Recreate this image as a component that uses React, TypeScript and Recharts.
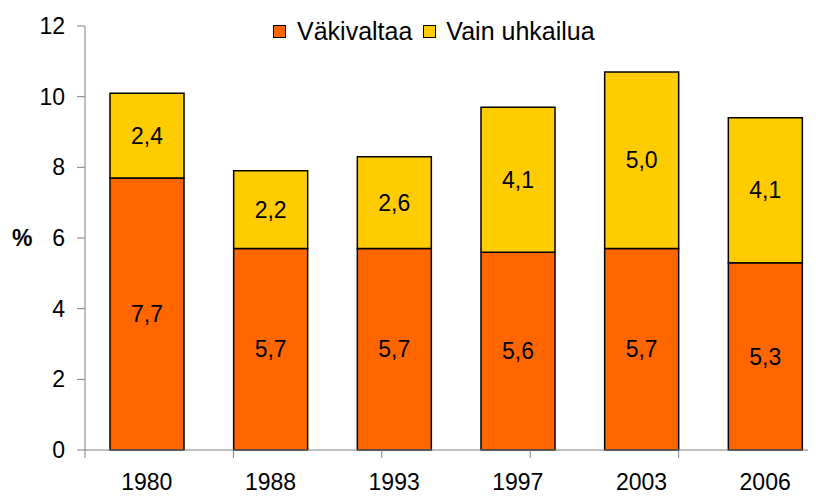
import React from 'react';
import { BarChart, Bar, XAxis, YAxis, LabelList, Legend } from 'recharts';

const years = ['1980', '1988', '1993', '1997', '2003', '2006'];
const violence = [7.7, 5.7, 5.7, 5.6, 5.7, 5.3];
const threats = [2.4, 2.2, 2.6, 4.1, 5.0, 4.1];
const yTicks = [0, 2, 4, 6, 8, 10, 12];
const boundaryTicks = [0, 1, 2, 3, 4, 5, 6];

const data = years.map((y, i) => ({ year: y, v: violence[i], t: threats[i] }));

const FONT = '"Liberation Sans", Arial, sans-serif';
const FS = 23;
const fmt = (v: any) => String(Number(v).toFixed(1)).replace('.', ',');

const LegendContent = () => (
  <div style={{ display: 'flex', alignItems: 'center', fontFamily: FONT, fontSize: 25, color: '#000', lineHeight: '26px' }}>
    <span style={{ width: 11, height: 11, background: '#FF6600', border: '1px solid #000', display: 'inline-block', marginRight: 11 }} />
    <span style={{ marginRight: 11 }}>Väkivaltaa</span>
    <span style={{ width: 11, height: 11, background: '#FFCC00', border: '1px solid #000', display: 'inline-block', marginRight: 10 }} />
    <span>Vain uhkailua</span>
  </div>
);

const EmptyTick = () => <g />;

export default function App() {
  return (
    <div style={{ margin: '-8px 0 0 -8px', width: 816, height: 496, overflow: 'hidden', background: '#fff' }}>
      <BarChart width={828} height={496} data={data} margin={{ top: 26, right: 1, bottom: 0, left: 0 }} barSize={74}>
        <Legend
          verticalAlign="middle"
          align="center"
          layout="horizontal"
          content={<LegendContent />}
          wrapperStyle={{ top: 18, left: 273, width: 'auto' }}
        />
        <YAxis
          width={85}
          domain={[0, 12]}
          ticks={yTicks}
          interval={0}
          tickSize={8}
          tickMargin={12}
          stroke="#808080"
          tick={{ fill: '#000', fontSize: FS, fontFamily: FONT }}
          label={{ value: '%', position: 'insideLeft', offset: 12, fill: '#000', fontSize: FS, fontWeight: 'bold', fontFamily: FONT }}
        />
        <XAxis
          xAxisId="a"
          type="number"
          domain={[0, 6]}
          ticks={boundaryTicks}
          allowDataOverflow
          interval={0}
          height={1}
          tickSize={8}
          tick={<EmptyTick />}
          stroke="#808080"
        />
        <XAxis
          xAxisId="b"
          dataKey="year"
          height={45}
          axisLine={false}
          tickLine={false}
          tickSize={0}
          tickMargin={23}
          interval={0}
          tick={{ fill: '#000', fontSize: FS, fontFamily: FONT }}
        />
        <Bar xAxisId="b" dataKey="v" stackId="s" fill="#FF6600" stroke="#000" strokeWidth={1.5} isAnimationActive={false}>
          <LabelList dataKey="v" position="center" formatter={fmt} fill="#000" fontSize={FS} fontFamily={FONT} />
        </Bar>
        <Bar xAxisId="b" dataKey="t" stackId="s" fill="#FFCC00" stroke="#000" strokeWidth={1.5} isAnimationActive={false}>
          <LabelList dataKey="t" position="center" formatter={fmt} fill="#000" fontSize={FS} fontFamily={FONT} />
        </Bar>
      </BarChart>
    </div>
  );
}
